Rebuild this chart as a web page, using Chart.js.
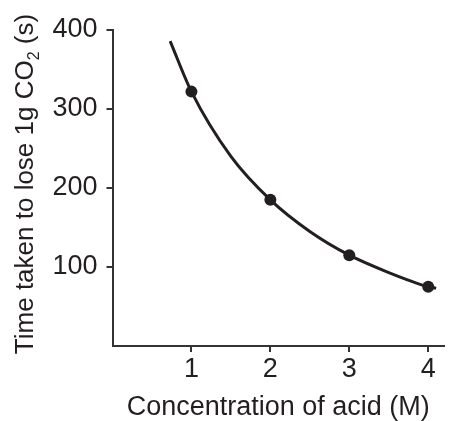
<!DOCTYPE html>
<html>
<head>
<meta charset="utf-8">
<script src="https://cdn.jsdelivr.net/npm/chart.js@4"></script>
<style>
  body { margin: 0; background: #fff; }
  canvas { display: block; }
</style>
</head>
<body>
<canvas id="myChart" width="450" height="421"></canvas>
<script>
// measured points
const concentration = [1, 2, 3, 4];
const timeTaken = [322, 185, 115, 75];

// the smooth fitted curve
const curveX = [0.73, 1, 1.5, 2, 2.5, 3, 3.5, 4, 4.1];
const curveY = [386, 322, 240, 185, 145, 115, 93, 75, 73];

const xTicks = [1, 2, 3, 4];
const yTicks = [100, 200, 300, 400];

const ink = '#231f20';
const axisColor = '#333333';
const font = 'Liberation Sans, Arial, sans-serif';

// y title with a real subscript 2
const yTitlePlugin = {
    id: 'yTitle',
    afterDraw(chart) {
        const ctx = chart.ctx;
        const parts = [
            { text: 'Time taken to lose 1g CO', size: 26, shift: 0 },
            { text: '2', size: 16, shift: 6 },
            { text: ' (s)', size: 26, shift: 0 }
        ];
        ctx.save();
        let total = 0;
        parts.forEach(p => {
            ctx.font = p.size + 'px ' + font;
            p.w = ctx.measureText(p.text).width;
            total += p.w;
        });
        ctx.translate(33, 184);
        ctx.rotate(-Math.PI / 2);
        ctx.fillStyle = ink;
        ctx.textBaseline = 'alphabetic';
        ctx.textAlign = 'left';
        let x = -total / 2;
        parts.forEach(p => {
            ctx.font = p.size + 'px ' + font;
            ctx.fillText(p.text, x, p.shift);
            x += p.w;
        });
        ctx.restore();
    }
};

const chart = new Chart('myChart', {
    type: 'scatter',
    data: {
        datasets: [{
            label: 'curve',
            data: curveX.map((x, i) => ({ x: x, y: curveY[i] })),
            showLine: true,
            borderColor: ink,
            borderWidth: 3,
            pointRadius: 0,
            cubicInterpolationMode: 'monotone'
        }, {
            label: 'points',
            data: concentration.map((x, i) => ({ x: x, y: timeTaken[i] })),
            showLine: false,
            pointRadius: 6,
            pointBackgroundColor: ink,
            pointBorderColor: ink,
            pointBorderWidth: 0
        }]
    },
    options: {
        responsive: false,
        animation: false,
        layout: { padding: { top: 30, right: 5, left: 0, bottom: 0 } },
        plugins: {
            legend: { display: false },
            tooltip: { enabled: false }
        },
        scales: {
            x: {
                type: 'linear',
                min: 0,
                max: 4.2,
                afterBuildTicks: s => { s.ticks = xTicks.map(v => ({ value: v })); },
                afterFit: s => { s.height = 75; },
                border: { display: true, color: axisColor, width: 2 },
                grid: { drawOnChartArea: false, drawTicks: true, tickLength: 6, color: axisColor, lineWidth: 2 },
                ticks: { color: ink, font: { family: font, size: 27 }, padding: 1 },
                title: {
                    display: true,
                    text: 'Concentration of acid (M)',
                    color: ink,
                    font: { family: font, size: 27, lineHeight: 1 },
                    padding: 0
                }
            },
            y: {
                min: 0,
                max: 400,
                afterBuildTicks: s => { s.ticks = yTicks.map(v => ({ value: v })); },
                afterFit: s => { s.width = 112.5; },
                border: { display: true, color: axisColor, width: 2 },
                grid: { drawOnChartArea: false, drawTicks: true, tickLength: 6, color: axisColor, lineWidth: 2 },
                ticks: { color: ink, font: { family: font, size: 27 }, padding: 9 }
            }
        }
    },
    plugins: [yTitlePlugin]
});
</script>
</body>
</html>
